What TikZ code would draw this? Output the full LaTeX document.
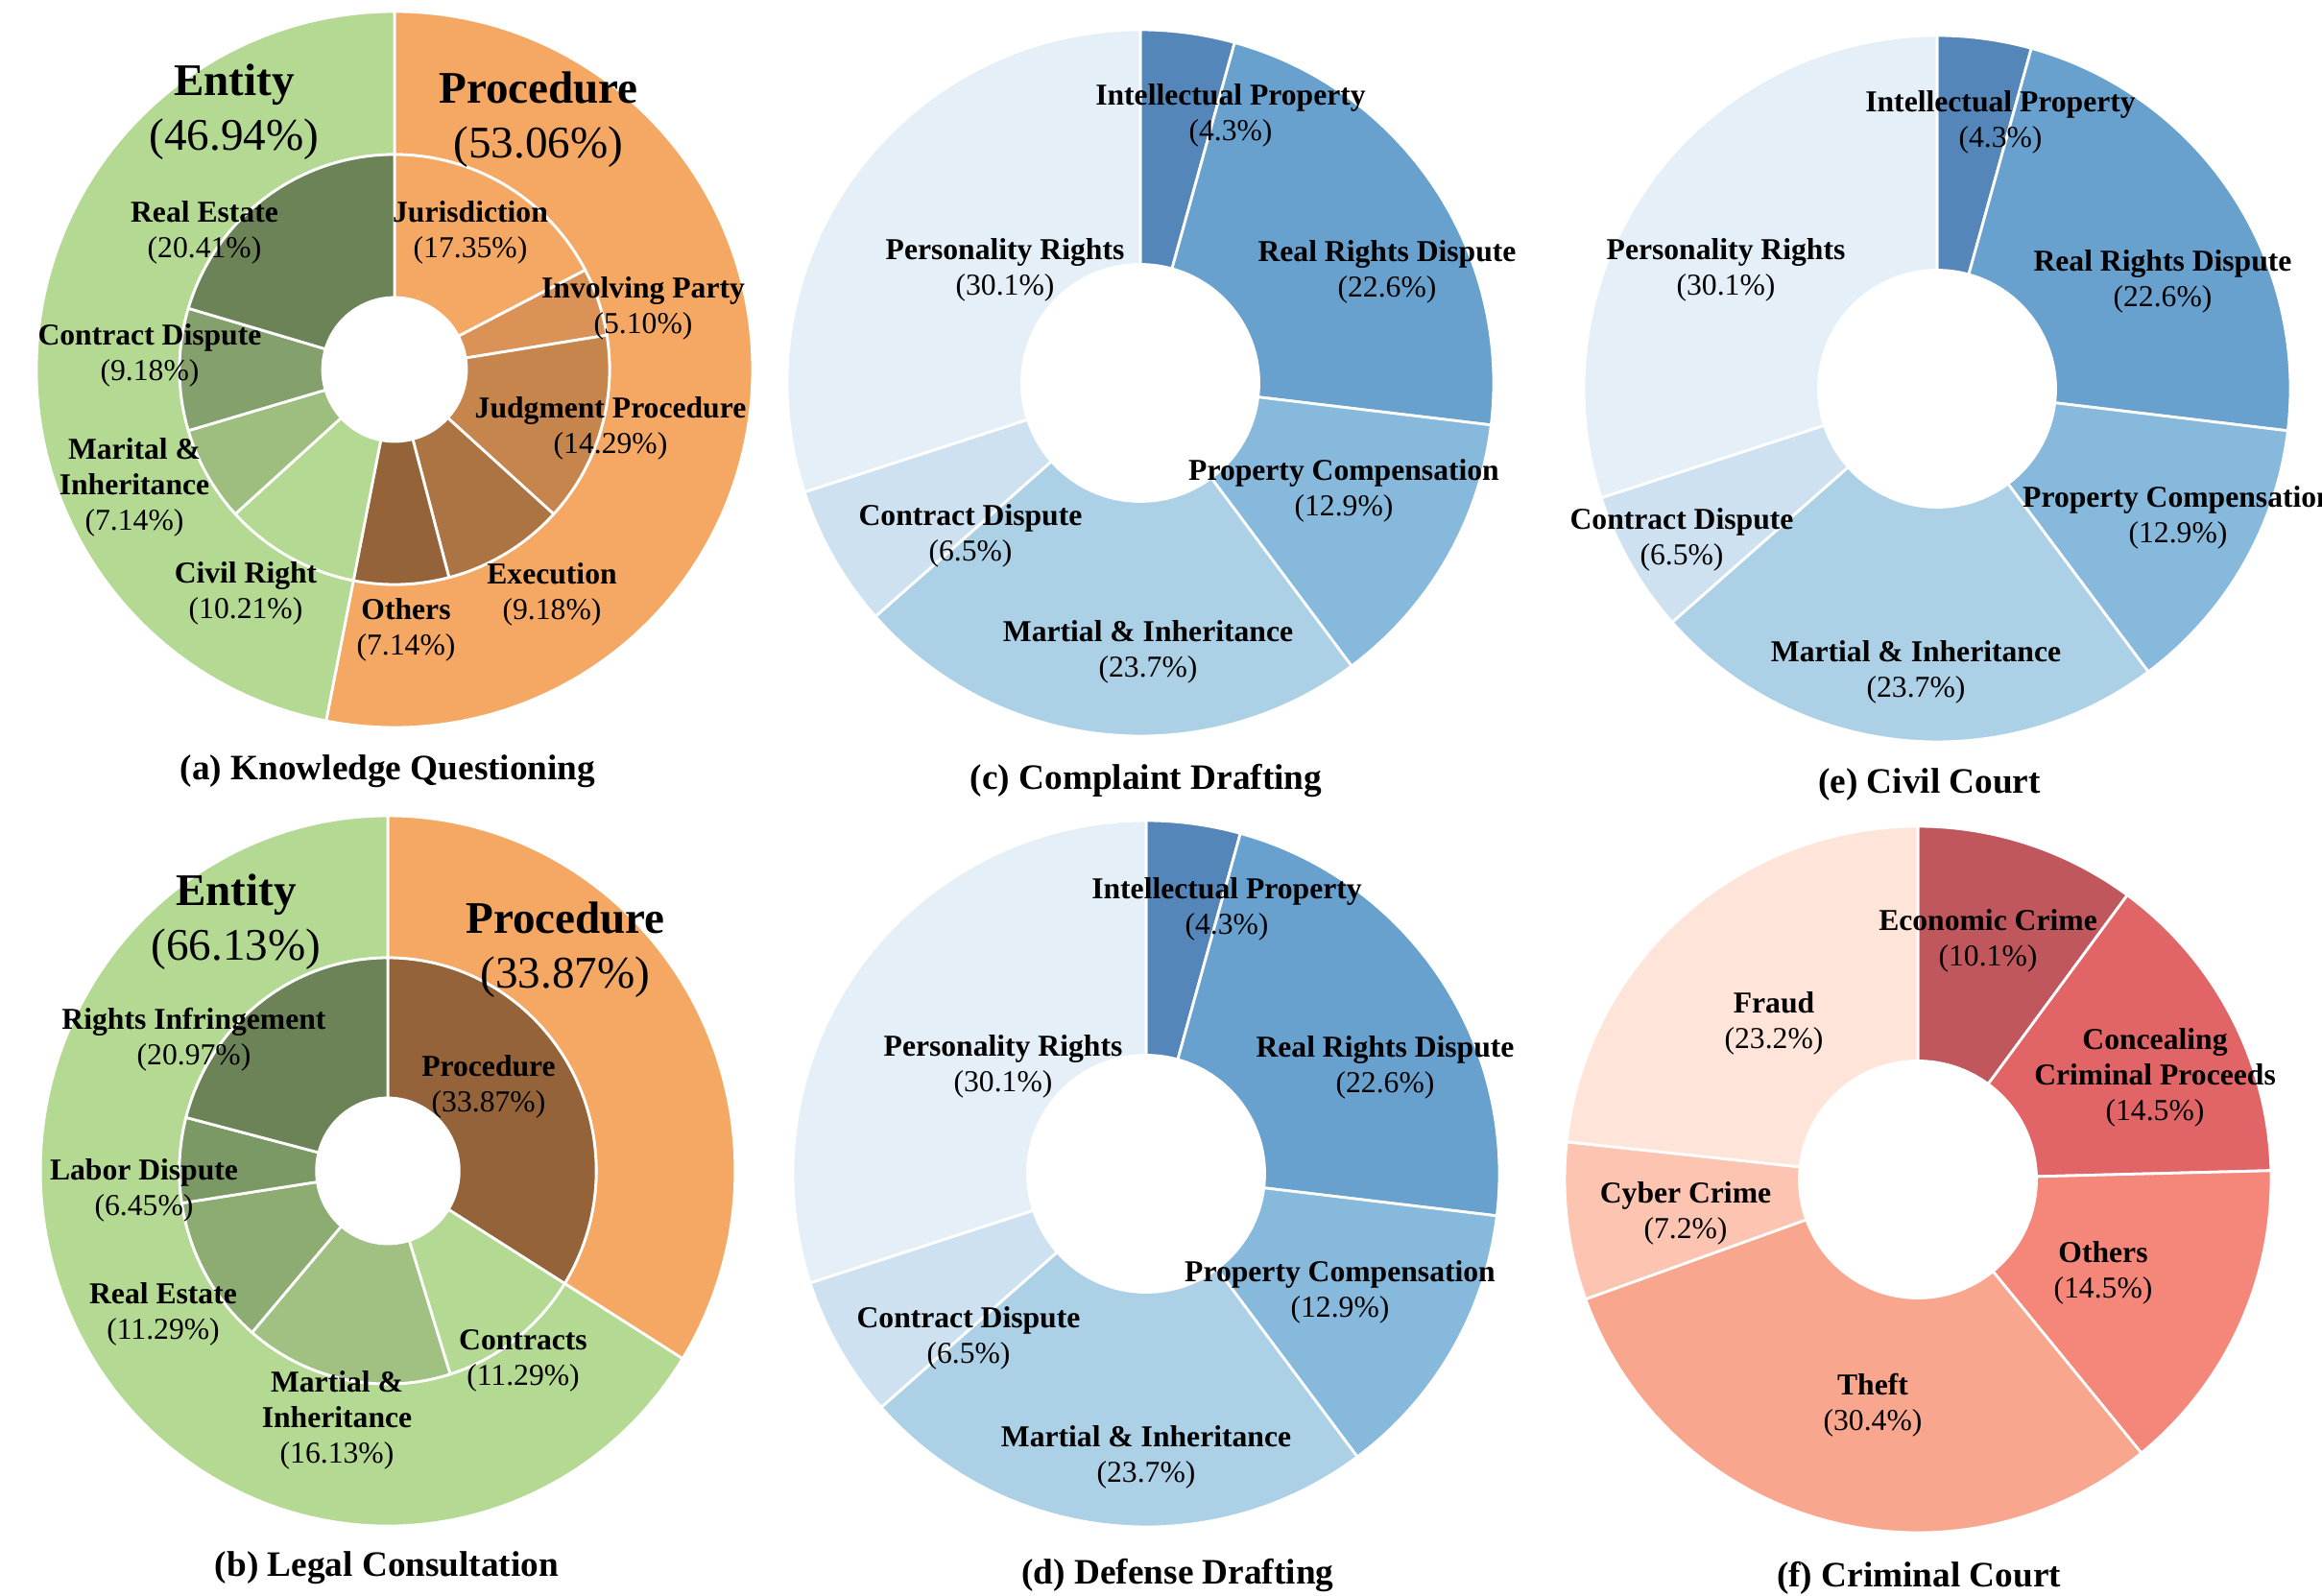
\documentclass[tikz,border=0pt]{standalone}
\usepackage{fontspec}
\setmainfont{Liberation Serif}
\usepackage{xcolor}
\usepackage{tikz}

\definecolor{entityGreen}{HTML}{B4D993}
\definecolor{procOrange}{HTML}{F5A863}
\definecolor{greenA}{HTML}{6C8357}
\definecolor{greenB}{HTML}{84A06C}
\definecolor{greenC}{HTML}{9DBE7F}
\definecolor{greenL}{HTML}{7B9964}
\definecolor{greenR}{HTML}{8DAC72}
\definecolor{greenM}{HTML}{A1C183}
\definecolor{brownA}{HTML}{DB9257}
\definecolor{brownB}{HTML}{C5854D}
\definecolor{brownC}{HTML}{AC7443}
\definecolor{brownD}{HTML}{94633A}
\definecolor{blueA}{HTML}{5586BA}
\definecolor{blueB}{HTML}{69A1CE}
\definecolor{blueC}{HTML}{86B9DB}
\definecolor{blueD}{HTML}{ACD1E6}
\definecolor{blueE}{HTML}{CDE1F0}
\definecolor{blueF}{HTML}{E4EFF8}
\definecolor{redA}{HTML}{C0575D}
\definecolor{redB}{HTML}{E16567}
\definecolor{redC}{HTML}{F5877A}
\definecolor{redD}{HTML}{F9A68E}
\definecolor{redE}{HTML}{FCC4B1}
\definecolor{redF}{HTML}{FEE4D9}

% inner radius, outer radius, from (%), to (%), colour
\newcommand{\ringslice}[5]{%
  \pgfmathsetmacro{\angA}{90-3.6*#3}%
  \pgfmathsetmacro{\angB}{90-3.6*#4}%
  \path [fill=#5, slice] (\angA:#1) -- (\angA:#2) arc[start angle=\angA, end angle=\angB, radius=#2]
    -- (\angB:#1) arc[start angle=\angB, end angle=\angA, radius=#1] -- cycle;
}

\begin{document}
\begin{tikzpicture}[
    lab/.style = {align=center, font=\fontsize{9}{10.5}\selectfont, inner sep=0pt},
    head/.style = {align=center, font=\fontsize{13.4}{16.2}\selectfont, inner sep=0pt},
    caption/.style = {font=\bfseries\fontsize{10.6}{12.7}\selectfont, inner sep=0pt},
    slice/.style = {draw=white, line width=0.8pt, line join=round},
    ]
    \useasboundingbox (0,0) rectangle (24.19,-16.63);

    % (a) knowledge questioning
    \begin{scope}[shift={(4.11,-3.85)}]
        \foreach \from/\to/\col in {0/53.06/procOrange, 53.06/100/entityGreen}
            {\ringslice{2.24}{3.73}{\from}{\to}{\col}}
        \foreach \from/\to/\col in {0/17.35/procOrange, 17.35/22.45/brownA, 22.45/36.74/brownB,
                36.74/45.92/brownC, 45.92/53.06/brownD, 53.06/63.27/entityGreen,
                63.27/70.41/greenC, 70.41/79.59/greenB, 79.59/100/greenA}
            {\ringslice{0.75}{2.24}{\from}{\to}{\col}}

        \node [head] (kqEntity) at (-1.67,2.68) {\textbf{Entity}\\(46.94\%)};
        \node [head] (kqProc)   at (1.50,2.60)  {\textbf{Procedure}\\(53.06\%)};
        \node [lab]  (kqReal)   at (-1.98,1.43) {\textbf{Real Estate}\\(20.41\%)};
        \node [lab]  (kqJur)    at (0.79,1.43)  {\textbf{Jurisdiction}\\(17.35\%)};
        \node [lab]  (kqParty)  at (2.59,0.64)  {\textbf{Involving Party}\\(5.10\%)};
        \node [lab]  (kqContr)  at (-2.55,0.15) {\textbf{Contract Dispute}\\(9.18\%)};
        \node [lab]  (kqJudg)   at (2.25,-0.61) {\textbf{Judgment Procedure}\\(14.29\%)};
        \node [lab]  (kqMarit)  at (-2.71,-1.23) {\textbf{Marital \&}\\\textbf{Inheritance}\\(7.14\%)};
        \node [lab]  (kqCivil)  at (-1.55,-2.33) {\textbf{Civil Right}\\(10.21\%)};
        \node [lab]  (kqExec)   at (1.64,-2.34) {\textbf{Execution}\\(9.18\%)};
        \node [lab]  (kqOther)  at (0.12,-2.71) {\textbf{Others}\\(7.14\%)};
    \end{scope}
    \node [caption] (capA) at (4.04,-8.04) {(a) Knowledge Questioning};

    % (b) legal consultation
    \begin{scope}[shift={(4.04,-12.20)}]
        \begin{scope}[xscale=0.978]
            \foreach \from/\to/\col in {0/33.87/procOrange, 33.87/100/entityGreen}
                {\ringslice{2.22}{3.70}{\from}{\to}{\col}}
            \foreach \from/\to/\col in {0/33.87/brownD, 33.87/45.16/entityGreen, 45.16/61.29/greenM,
                    61.29/72.58/greenR, 72.58/79.03/greenL, 79.03/100/greenA}
                {\ringslice{0.76}{2.22}{\from}{\to}{\col}}
        \end{scope}

        \node [head] (lcEntity) at (-1.58,2.59) {\textbf{Entity}\\(66.13\%)};
        \node [head] (lcProc)   at (1.85,2.30)  {\textbf{Procedure}\\(33.87\%)};
        \node [lab]  (lcRights) at (-2.02,1.37) {\textbf{Rights Infringement}\\(20.97\%)};
        \node [lab]  (lcProcIn) at (1.05,0.88)  {\textbf{Procedure}\\(33.87\%)};
        \node [lab]  (lcLabor)  at (-2.54,-0.20) {\textbf{Labor Dispute}\\(6.45\%)};
        \node [lab]  (lcReal)   at (-2.34,-1.49) {\textbf{Real Estate}\\(11.29\%)};
        \node [lab]  (lcContr)  at (1.41,-1.98) {\textbf{Contracts}\\(11.29\%)};
        \node [lab]  (lcMart)   at (-0.53,-2.60) {\textbf{Martial \&}\\\textbf{Inheritance}\\(16.13\%)};
    \end{scope}
    \node [caption] (capB) at (4.03,-16.34) {(b) Legal Consultation};

    % (c), (d), (e) civil donuts share one split
    \foreach \cx/\cy in {11.88/-3.99, 11.94/-12.23, 20.18/-4.05}
    {
        \begin{scope}[shift={(\cx,\cy)}]
            \foreach \from/\to/\col in {0/4.3/blueA, 4.3/26.9/blueB, 26.9/39.8/blueC,
                    39.8/63.5/blueD, 63.5/70/blueE, 70/100/blueF}
                {\ringslice{1.235}{3.68}{\from}{\to}{\col}}
        \end{scope}
    }

    % (c) complaint drafting
    \begin{scope}[shift={(11.88,-3.99)}]
        \node [lab] (cdIP)   at (0.94,2.79)  {\textbf{Intellectual Property}\\(4.3\%)};
        \node [lab] (cdPers) at (-1.41,1.18) {\textbf{Personality Rights}\\(30.1\%)};
        \node [lab] (cdReal) at (2.57,1.16)  {\textbf{Real Rights Dispute}\\(22.6\%)};
        \node [lab] (cdComp) at (2.12,-1.12) {\textbf{Property Compensation}\\(12.9\%)};
        \node [lab] (cdContr) at (-1.77,-1.59) {\textbf{Contract Dispute}\\(6.5\%)};
        \node [lab] (cdMart) at (0.08,-2.80) {\textbf{Martial \& Inheritance}\\(23.7\%)};
    \end{scope}
    \node [caption] (capC) at (11.94,-8.13) {(c) Complaint Drafting};

    % (d) defense drafting
    \begin{scope}[shift={(11.94,-12.23)}]
        \node [lab] (ddIP)   at (0.84,2.76)  {\textbf{Intellectual Property}\\(4.3\%)};
        \node [lab] (ddPers) at (-1.49,1.12) {\textbf{Personality Rights}\\(30.1\%)};
        \node [lab] (ddReal) at (2.49,1.11)  {\textbf{Real Rights Dispute}\\(22.6\%)};
        \node [lab] (ddComp) at (2.02,-1.23) {\textbf{Property Compensation}\\(12.9\%)};
        \node [lab] (ddContr) at (-1.85,-1.71) {\textbf{Contract Dispute}\\(6.5\%)};
        \node [lab] (ddMart) at (0.00,-2.95) {\textbf{Martial \& Inheritance}\\(23.7\%)};
    \end{scope}
    \node [caption] (capD) at (12.27,-16.41) {(d) Defense Drafting};

    % (e) civil court
    \begin{scope}[shift={(20.18,-4.05)}]
        \node [lab] (ccIP)   at (0.66,2.78)  {\textbf{Intellectual Property}\\(4.3\%)};
        \node [lab] (ccPers) at (-2.20,1.24) {\textbf{Personality Rights}\\(30.1\%)};
        \node [lab] (ccReal) at (2.35,1.12)  {\textbf{Real Rights Dispute}\\(22.6\%)};
        \node [lab] (ccComp) at (2.51,-1.34) {\textbf{Property Compensation}\\(12.9\%)};
        \node [lab] (ccContr) at (-2.66,-1.57) {\textbf{Contract Dispute}\\(6.5\%)};
        \node [lab] (ccMart) at (-0.22,-2.95) {\textbf{Martial \& Inheritance}\\(23.7\%)};
    \end{scope}
    \node [caption] (capE) at (20.10,-8.18) {(e) Civil Court};

    % (f) criminal court
    \begin{scope}[shift={(19.98,-12.29)}]
        \foreach \from/\to/\col in {0/10.1/redA, 10.1/24.6/redB, 24.6/39.1/redC,
                39.1/69.5/redD, 69.5/76.7/redE, 76.7/100/redF}
            {\ringslice{1.235}{3.68}{\from}{\to}{\col}}

        \node [lab] (crEcon)  at (0.73,2.49)  {\textbf{Economic Crime}\\(10.1\%)};
        \node [lab] (crFraud) at (-1.50,1.63) {\textbf{Fraud}\\(23.2\%)};
        \node [lab] (crConc)  at (2.47,1.06)  {\textbf{Concealing}\\\textbf{Criminal Proceeds}\\(14.5\%)};
        \node [lab] (crCyber) at (-2.42,-0.35) {\textbf{Cyber Crime}\\(7.2\%)};
        \node [lab] (crOther) at (1.93,-0.97) {\textbf{Others}\\(14.5\%)};
        \node [lab] (crTheft) at (-0.47,-2.35) {\textbf{Theft}\\(30.4\%)};
    \end{scope}
    \node [caption] (capF) at (19.99,-16.44) {(f) Criminal Court};
\end{tikzpicture}
\end{document}
